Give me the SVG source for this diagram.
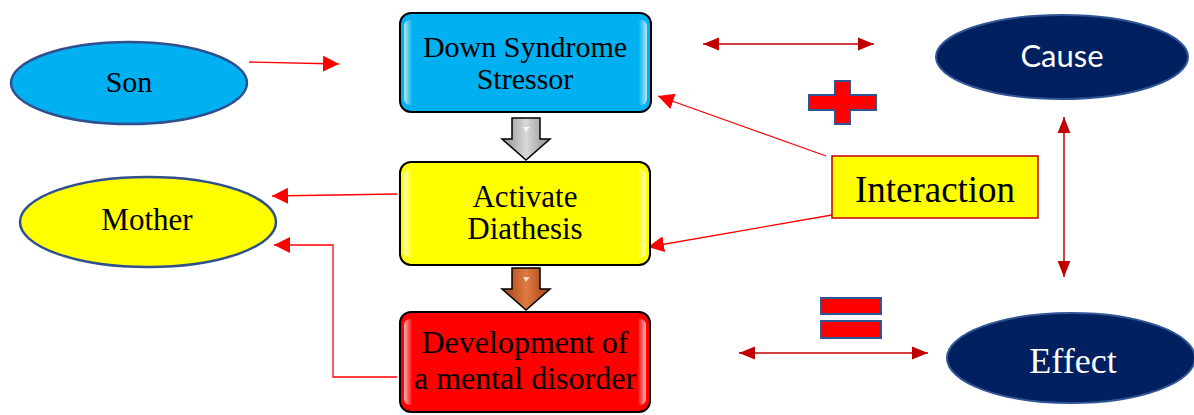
<svg xmlns="http://www.w3.org/2000/svg" width="1194" height="415" viewBox="0 0 1194 415">
<style>
.serif{font-family:"Liberation Serif","Times New Roman",serif;fill:#000;text-anchor:middle}
.box{stroke:#000;stroke-width:2}
.gloss{fill:url(#gloss);stroke:none}
.ell{stroke:#2F4F8F;stroke-width:2.5}
.nav{fill:#002060;stroke:#2F5597;stroke-width:2}
.red{stroke:#FF0000;stroke-width:1.3;fill:none}
.dred{stroke:#C00000;stroke-width:1.5;fill:none}
.sym{fill:#FF0000;stroke:#2F5597;stroke-width:2}
</style>
<defs>
<linearGradient id="gloss" x1="0" y1="0" x2="1" y2="0">
<stop offset="0" stop-color="#fff" stop-opacity="0.7"/>
<stop offset="0.035" stop-color="#fff" stop-opacity="0"/>
<stop offset="0.965" stop-color="#fff" stop-opacity="0"/>
<stop offset="1" stop-color="#fff" stop-opacity="0.7"/>
</linearGradient>
<linearGradient id="grayG" x1="0" y1="0" x2="1" y2="0">
<stop offset="0" stop-color="#8c8c8c"/><stop offset="0.5" stop-color="#d9d9d9"/><stop offset="1" stop-color="#8c8c8c"/>
</linearGradient>
<linearGradient id="brownG" x1="0" y1="0" x2="1" y2="0">
<stop offset="0" stop-color="#a0401a"/><stop offset="0.5" stop-color="#e07a40"/><stop offset="1" stop-color="#a0401a"/>
</linearGradient>
<marker id="ard" viewBox="0 0 10 10" refX="10" refY="5" markerWidth="16" markerHeight="16" markerUnits="userSpaceOnUse" orient="auto-start-reverse">
<path d="M0,1 L10,5 L0,9 Z" fill="#C00000"/>
</marker>
<marker id="arb" viewBox="0 0 10 10" refX="10" refY="5" markerWidth="16" markerHeight="16" markerUnits="userSpaceOnUse" orient="auto-start-reverse">
<path d="M0,0 L10,5 L0,10 Z" fill="#FF0000"/>
</marker>
</defs>

<g id="connectors">
<line class="red" x1="249" y1="62" x2="339" y2="64" marker-end="url(#arb)"/>
<line class="red" x1="397" y1="194" x2="272" y2="196" marker-end="url(#arb)"/>
<polyline class="red" points="397,377 333,377 333,245 274,245" marker-end="url(#arb)"/>
<line class="red" x1="826" y1="156" x2="658" y2="96" marker-end="url(#arb)"/>
<line class="red" x1="832" y1="215" x2="648" y2="247" marker-end="url(#arb)"/>
<line class="dred" x1="703" y1="44" x2="874" y2="44" marker-start="url(#ard)" marker-end="url(#ard)"/>
<line class="dred" x1="1064" y1="117" x2="1064" y2="277" marker-start="url(#ard)" marker-end="url(#ard)"/>
<line class="dred" x1="739" y1="353" x2="928" y2="353" marker-start="url(#ard)" marker-end="url(#ard)"/>
</g>

<g id="son">
<ellipse class="ell" cx="129" cy="83" rx="118" ry="41" fill="#00B0F0"/>
<text class="serif" x="129" y="92" font-size="30">Son</text>
</g>

<g id="mother">
<ellipse class="ell" cx="148" cy="222" rx="128" ry="45" fill="#FFFF00"/>
<text class="serif" x="147" y="230" font-size="31">Mother</text>
</g>

<g id="down-syndrome">
<rect class="box" x="400" y="13" width="251" height="99" rx="11" fill="#00B0F0"/>
<rect class="gloss" x="404" y="20" width="243" height="85" rx="6"/>
<text class="serif" x="525" y="57" font-size="30">Down Syndrome</text>
<text class="serif" x="525" y="89" font-size="30">Stressor</text>
</g>

<g id="arrow-gray">
<polygon points="512,118 540,118 540,139 550,139 526,160 502,139 512,139" fill="url(#grayG)" stroke="#000" stroke-width="1.5"/>
<polygon points="523,127 530,127 526,132" fill="#fff" opacity="0.8"/>
</g>

<g id="activate">
<rect class="box" x="400" y="162" width="250" height="103" rx="11" fill="#FFFF00"/>
<rect class="gloss" x="404" y="169" width="242" height="89" rx="6"/>
<text class="serif" x="525" y="207" font-size="31">Activate</text>
<text class="serif" x="525" y="239" font-size="31">Diathesis</text>
</g>

<g id="arrow-brown">
<polygon points="512,268 540,268 540,289 550,289 526,310 502,289 512,289" fill="url(#brownG)" stroke="#000" stroke-width="1.5"/>
<polygon points="523,277 530,277 526,282" fill="#fff" opacity="0.7"/>
</g>

<g id="development">
<rect class="box" x="400" y="312" width="250" height="100" rx="11" fill="#FF0000"/>
<rect class="gloss" x="404" y="319" width="242" height="86" rx="6"/>
<text class="serif" x="525" y="353" font-size="32">Development of</text>
<text class="serif" x="525" y="389" font-size="32">a mental disorder</text>
</g>

<g id="interaction">
<rect x="832" y="156" width="206" height="62" fill="#FFFF00" stroke="#C00000" stroke-width="1.5"/>
<text class="serif" x="935" y="202" font-size="37">Interaction</text>
</g>

<g id="cause">
<ellipse class="nav" cx="1062" cy="57" rx="126" ry="42"/>
<text x="1062" y="67" font-size="31" font-family="Lato, 'Open Sans', sans-serif" fill="#fff" text-anchor="middle">Cause</text>
</g>

<g id="effect">
<ellipse class="nav" cx="1071" cy="358" rx="124" ry="45"/>
<text x="1073" y="373" font-size="36" font-family="'Liberation Serif', serif" fill="#fff" text-anchor="middle">Effect</text>
</g>

<g id="plus">
<path class="sym" d="M835,81 H850 V95 H876 V110 H850 V124 H835 V110 H809 V95 H835 Z"/>
</g>

<g id="equals">
<rect class="sym" x="821" y="298" width="60" height="16"/>
<rect class="sym" x="821" y="321" width="60" height="17"/>
</g>
</svg>
